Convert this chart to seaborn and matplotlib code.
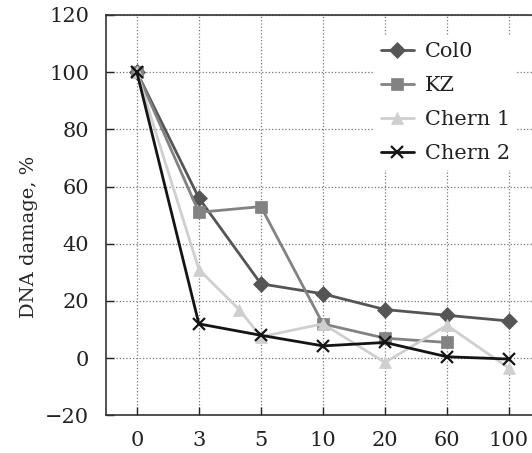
import matplotlib
matplotlib.use("Agg")
import matplotlib.pyplot as plt
import seaborn as sns
import numpy as np
import pandas as pd

# categories on the x axis (evenly spaced)
x_labels = ["0", "3", "5", "10", "20", "60", "100"]

# series values (x given as category index)
col0_x = [0, 1, 2, 3, 4, 5, 6]
col0_y = [100, 56, 26, 22.5, 17, 15, 13]

kz_x = [0, 1, 2, 3, 4, 5]
kz_y = [100, 51, 53, 12, 7, 5.5]

chern1_x = [0, 1, 1.65, 2, 3, 4, 5, 6]
chern1_y = [100, 31, 17, 7.5, 12, -1.5, 11.5, -3.5]

chern2_x = [0, 1, 2, 3, 4, 5, 6]
chern2_y = [100, 12, 8, 4.3, 5.5, 0.5, -0.3]

series = ["Col0", "KZ", "Chern 1", "Chern 2"]
colors = {"Col0": "#555555", "KZ": "#828282", "Chern 1": "#cfcfcf", "Chern 2": "#141414"}
markers = {"Col0": "D", "KZ": "s", "Chern 1": "^", "Chern 2": "x"}

data = {"Col0": (col0_x, col0_y), "KZ": (kz_x, kz_y),
        "Chern 1": (chern1_x, chern1_y), "Chern 2": (chern2_x, chern2_y)}

sns.set_style("ticks")
plt.rcParams["font.family"] = ["DejaVu Serif"]

fig = plt.figure(figsize=(5.32, 4.53), dpi=100)
ax = fig.add_axes([0.199, 0.083, 0.816, 0.884])

for name in series:
    xs, ys = data[name]
    df = pd.DataFrame({"x": xs, "y": ys})
    sns.lineplot(data=df, x="x", y="y", color=colors[name], marker=markers[name],
                 estimator=None, sort=False, linewidth=2, markersize=8,
                 label=name, legend=False, ax=ax)

# marker edges in the line colour
for line in ax.lines:
    c = line.get_color()
    line.set_markeredgecolor(c)
    line.set_markerfacecolor(c)
    line.set_markeredgewidth(1.6 if line.get_marker() == "x" else 0.5)

ax.set_xlim(-0.5, 6.5)
ax.set_ylim(-20, 120)
ax.set_xticks(range(len(x_labels)))
ax.set_xticklabels(x_labels)
ax.set_yticks(np.arange(-20, 121, 20))
ax.set_yticklabels([str(v).replace("-", "\u2212") for v in range(-20, 121, 20)])
ax.set_xlabel("")
ax.set_ylabel("DNA damage, %", fontsize=14)
ax.yaxis.set_label_coords(-0.157, 0.446)

ax.grid(True, linestyle=":", color="#777777", linewidth=0.9)
ax.tick_params(direction="in", length=6, width=1, labelsize=15, colors="#222222")
ax.tick_params(axis="y", pad=12)
ax.tick_params(axis="x", pad=11)
for s in ax.spines.values():
    s.set_color("#333333")
    s.set_linewidth(1.2)

leg = ax.legend(ax.lines[:4], series, loc="upper left",
                bbox_to_anchor=(0.705, 0.92), bbox_transform=fig.transFigure,
                fontsize=15, frameon=True, facecolor="white", edgecolor="none",
                framealpha=1, handlelength=1.55, labelspacing=0.72, borderpad=0.3,
                borderaxespad=0, handletextpad=0.53)
for t in leg.get_texts():
    t.set_color("#222222")

fig.savefig("out.png", dpi=100)
